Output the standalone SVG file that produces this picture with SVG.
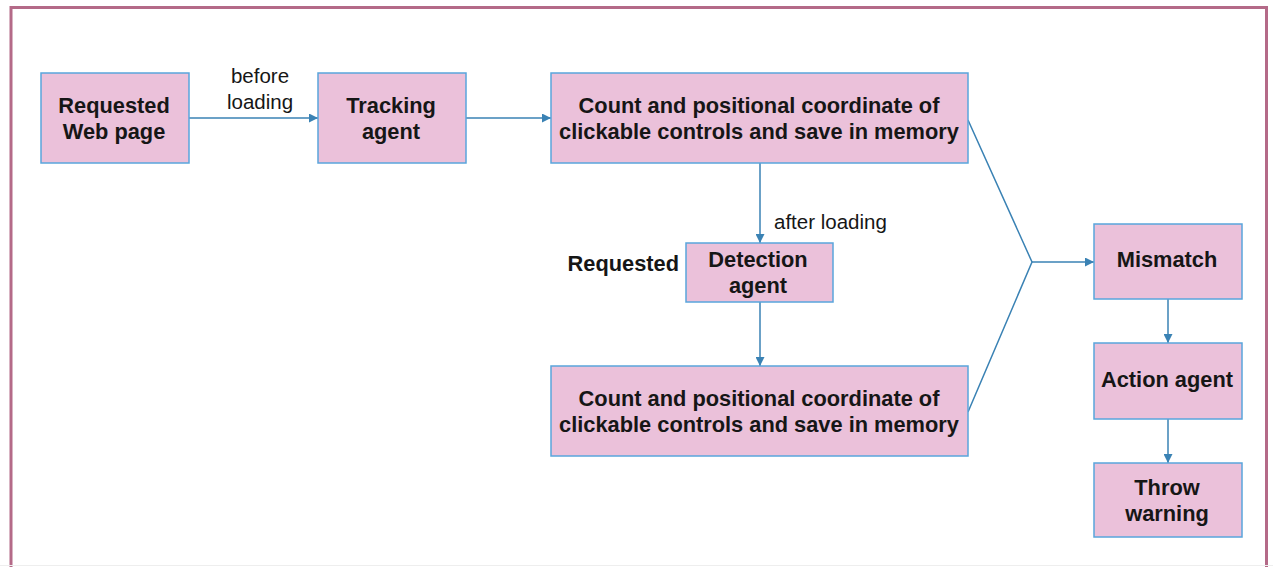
<svg xmlns="http://www.w3.org/2000/svg" width="1273" height="567" viewBox="0 0 1273 567">
<style>
.box{fill:#ebc1da;stroke:#5aa5dc;stroke-width:1.5}
.t{font-family:"Liberation Sans",Arial,sans-serif;font-size:21.8px;font-weight:bold;fill:#161616;text-anchor:middle}
.l{font-family:"Liberation Sans",Arial,sans-serif;font-size:20.5px;fill:#161616}
.c{fill:none;stroke:#3a82b4;stroke-width:1.5}
</style>
<defs>
<marker id="a" viewBox="0 0 10 10" refX="10" refY="5" markerWidth="9" markerHeight="9" markerUnits="userSpaceOnUse" orient="auto">
<path d="M0,0 L10,5 L0,10 Z" fill="#3a82b4"/>
</marker>
</defs>
<rect width="1273" height="567" fill="#ffffff"/>
<path d="M11,570 V7.5 H1266.5 V570" fill="none" stroke="#b46a88" stroke-width="3"/>
<line x1="0" y1="565.5" x2="1273" y2="565.5" stroke="#eeeeee" stroke-width="1"/>
<g id="connectors">
<line class="c" x1="189" y1="118" x2="318" y2="118" marker-end="url(#a)"/>
<line class="c" x1="466" y1="118" x2="551" y2="118" marker-end="url(#a)"/>
<line class="c" x1="760" y1="163" x2="760" y2="243" marker-end="url(#a)"/>
<line class="c" x1="760" y1="302" x2="760" y2="366" marker-end="url(#a)"/>
<polyline class="c" points="968,120 1032,262 968,412"/>
<line class="c" x1="1032" y1="262" x2="1094" y2="262" marker-end="url(#a)"/>
<line class="c" x1="1168" y1="299" x2="1168" y2="343" marker-end="url(#a)"/>
<line class="c" x1="1168" y1="419" x2="1168" y2="463" marker-end="url(#a)"/>
<text class="l" x="260" y="83" text-anchor="middle">before</text>
<text class="l" x="260" y="109" text-anchor="middle">loading</text>
<text class="l" x="774" y="229">after loading</text>
</g>
<g id="n1"><rect class="box" x="41" y="73" width="148" height="90"/><text class="t" x="114" y="113">Requested</text><text class="t" x="114" y="139">Web page</text></g>
<g id="n2"><rect class="box" x="318" y="73" width="148" height="90"/><text class="t" x="391" y="113">Tracking</text><text class="t" x="391" y="139">agent</text></g>
<g id="n3"><rect class="box" x="551" y="73" width="417" height="90"/><text class="t" x="759" y="113">Count and positional coordinate of</text><text class="t" x="759" y="139">clickable controls and save in memory</text></g>
<g id="n4"><rect class="box" x="686" y="243" width="147" height="59"/><text class="t" x="758" y="267">Detection</text><text class="t" x="758" y="293">agent</text></g>
<g id="n4label"><text class="t" x="679" y="271" text-anchor="end" style="text-anchor:end">Requested</text></g>
<g id="n5"><rect class="box" x="551" y="366" width="417" height="90"/><text class="t" x="759" y="406">Count and positional coordinate of</text><text class="t" x="759" y="432">clickable controls and save in memory</text></g>
<g id="n6"><rect class="box" x="1094" y="224" width="148" height="75"/><text class="t" x="1167" y="267">Mismatch</text></g>
<g id="n7"><rect class="box" x="1094" y="343" width="148" height="76"/><text class="t" x="1167" y="387">Action agent</text></g>
<g id="n8"><rect class="box" x="1094" y="463" width="148" height="74"/><text class="t" x="1167" y="495">Throw</text><text class="t" x="1167" y="521">warning</text></g>
</svg>
